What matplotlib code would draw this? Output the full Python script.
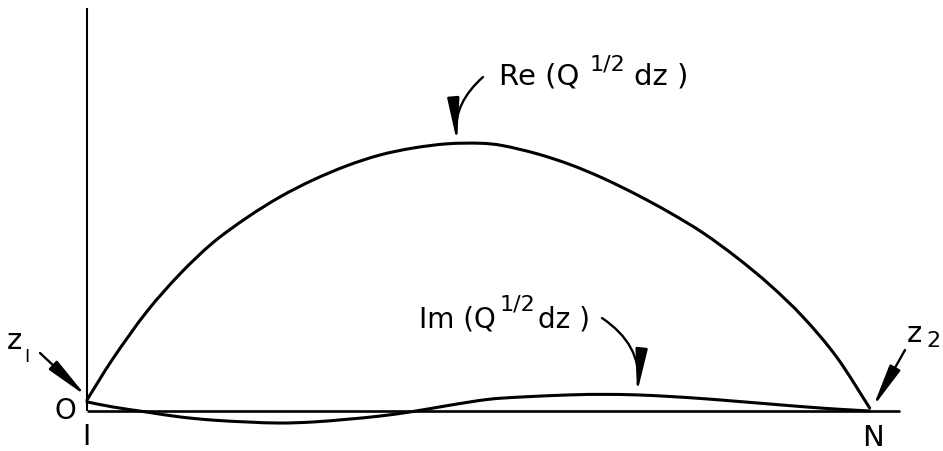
import matplotlib
matplotlib.use("Agg")
import numpy as np
import matplotlib.pyplot as plt
from matplotlib.path import Path
from matplotlib.patches import PathPatch

# Path parameter along the contour from node I (x = 0) to node N (x = 1)
x_re = [0.000, 0.033, 0.076, 0.118, 0.160, 0.204, 0.246, 0.288, 0.331, 0.373,
        0.415, 0.459, 0.501, 0.530, 0.573, 0.615, 0.657, 0.701, 0.743, 0.785,
        0.828, 0.870, 0.912, 0.955, 0.997]
re_vals = [0.041, 0.195, 0.370, 0.510, 0.627, 0.722, 0.799, 0.862, 0.915, 0.955,
           0.981, 0.997, 0.999, 0.990, 0.960, 0.920, 0.869, 0.806, 0.739, 0.664,
           0.572, 0.470, 0.351, 0.201, 0.011]

x_im = [0.000, 0.033, 0.076, 0.118, 0.160, 0.204, 0.246, 0.288, 0.331, 0.373,
        0.415, 0.459, 0.510, 0.552, 0.615, 0.657, 0.701, 0.743, 0.785, 0.828,
        0.870, 0.912, 0.955, 0.997]
im_vals = [0.034, 0.015, -0.004, -0.022, -0.034, -0.041, -0.045, -0.041, -0.031, -0.019,
           -0.002, 0.020, 0.043, 0.052, 0.060, 0.062, 0.060, 0.054, 0.046, 0.036,
           0.026, 0.016, 0.007, 0.000]

X_LIM = (-0.1108, 1.0904)
Y_LIM = (-0.1493, 1.5336)


def smooth_curve(xs, ys):
    """Cubic Bezier path passing through every point (Catmull-Rom tangents)."""
    pts = np.column_stack([xs, ys]).astype(float)
    verts = [pts[0]]
    codes = [Path.MOVETO]
    n = len(pts)
    for i in range(n - 1):
        p0 = pts[i - 1] if i > 0 else pts[i]
        p1, p2 = pts[i], pts[i + 1]
        p3 = pts[i + 2] if i + 2 < n else pts[i + 1]
        verts += [p1 + (p2 - p0) / 6.0, p2 - (p3 - p1) / 6.0, p2]
        codes += [Path.CURVE4] * 3
    return Path(verts, codes)


def to_data(px, py):
    """Figure pixel position (origin top-left) -> data coordinates."""
    x = X_LIM[0] + px / 943.0 * (X_LIM[1] - X_LIM[0])
    y = Y_LIM[1] - py / 451.0 * (Y_LIM[1] - Y_LIM[0])
    return x, y


fig = plt.figure(figsize=(9.43, 4.51), dpi=100)
ax = fig.add_axes([0, 0, 1, 1])
ax.set_xlim(*X_LIM)
ax.set_ylim(*Y_LIM)
ax.axis("off")

# coordinate axes
ax.plot([0, 1.036], [0, 0], color="black", lw=1.9, solid_capstyle="butt")
ax.plot([0, 0], [0, 1.504], color="black", lw=1.5, solid_capstyle="butt")

# the two integrand curves
for xs, ys in ((x_re, re_vals), (x_im, im_vals)):
    ax.add_patch(PathPatch(smooth_curve(xs, ys), fill=False, edgecolor="black",
                           lw=2.2, joinstyle="round", capstyle="round"))

font = dict(family="DejaVu Sans", color="black")
arrow_style = "-|>,head_length=2.6,head_width=0.36"


def label(px, py, main_a, size, sup_px, sup_py, main_b_px, main_b):
    ax.text(*to_data(px, py), main_a, fontsize=size, ha="left", va="baseline", **font)
    ax.text(*to_data(sup_px, sup_py), "1/2", fontsize=16, ha="left", va="baseline",
            **font)
    ax.text(*to_data(main_b_px, py), main_b, fontsize=size, ha="left", va="baseline",
            **font)


def arrow(tip, tail, rad=0.0):
    ax.annotate("", xy=to_data(*tip), xytext=to_data(*tail),
                arrowprops=dict(arrowstyle=arrow_style,
                                connectionstyle=f"arc3,rad={rad}",
                                color="black", lw=1.7, shrinkA=0, shrinkB=0))


# Re(Q^1/2 dz) label and pointer
label(499, 84, "Re (Q", 21, 590, 70, 634, "dz )")
arrow((457, 142), (483, 77), rad=0.25)

# Im(Q^1/2 dz) label and pointer
label(419, 327, "Im (Q", 20, 500, 310, 538, "dz )")
arrow((637, 393), (602, 318), rad=-0.3)

# endpoint labels
ax.text(*to_data(14, 341), "z", fontsize=21, ha="center", va="center", **font)
ax.text(*to_data(27, 357), "I", fontsize=13, ha="center", va="center", **font)
arrow((86, 396), (40, 353))

ax.text(*to_data(914, 334), "z", fontsize=21, ha="center", va="center", **font)
ax.text(*to_data(933, 341), "2", fontsize=16, ha="center", va="center", **font)
arrow((873, 407), (905, 350))

ax.text(*to_data(65, 411), "O", fontsize=20, ha="center", va="center", **font)
ax.text(*to_data(86, 437), "I", fontsize=20, ha="center", va="center", **font)
ax.text(*to_data(873, 438), "N", fontsize=21, ha="center", va="center", **font)

fig.savefig("out.png", dpi=100)
